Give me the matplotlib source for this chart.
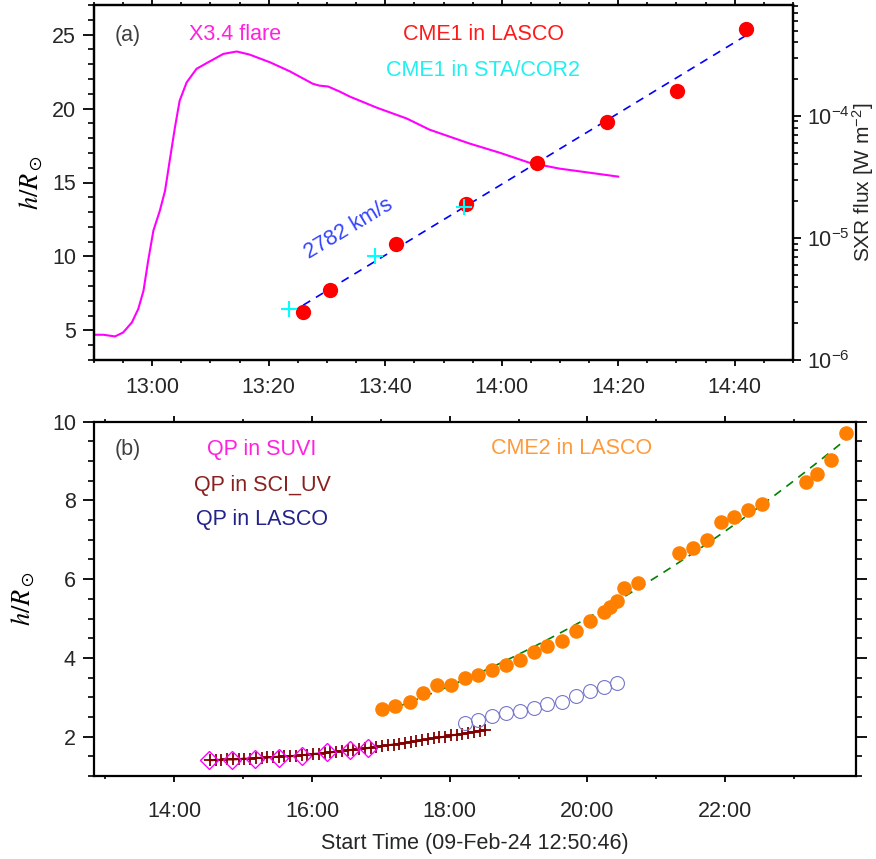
import numpy as np
import matplotlib
matplotlib.use('Agg')
import matplotlib.pyplot as plt
from matplotlib.ticker import MultipleLocator, FuncFormatter, LogLocator, NullFormatter, FixedLocator

plt.rcParams['font.family'] = ['Liberation Sans', 'DejaVu Sans']
plt.rcParams['mathtext.fontset'] = 'custom'
plt.rcParams['mathtext.rm'] = 'Liberation Sans'
plt.rcParams['mathtext.it'] = 'Liberation Sans:italic'
plt.rcParams['mathtext.sf'] = 'Liberation Sans'

# ---------------- data: panel (a) ----------------
flare_minutes_after_1250 = [0, 1.6, 3.6, 5.0, 6.5, 7.6, 8.5, 9.3, 10.2, 11.3, 12.2, 13.0, 13.9,
                            14.7, 15.9, 17.6, 19.6, 22.2, 24.5, 26.7, 30.2, 33.6, 37.6, 38.7,
                            40.2, 42.2, 43.9, 48.5, 53.7, 57.6, 64.5, 69.6, 74.7, 79.9, 90.0]
flare_flux = [1.61e-6, 1.61e-6, 1.56e-6, 1.68e-6, 2.03e-6, 2.62e-6, 3.70e-6, 6.52e-6, 1.15e-5,
              1.67e-5, 2.44e-5, 4.31e-5, 8.07e-5, 1.33e-4, 1.88e-4, 2.43e-4, 2.75e-4, 3.22e-4,
              3.37e-4, 3.18e-4, 2.75e-4, 2.32e-4, 1.83e-4, 1.77e-4, 1.74e-4, 1.58e-4, 1.44e-4,
              1.17e-4, 9.51e-5, 7.71e-5, 5.93e-5, 5.00e-5, 4.14e-5, 3.70e-5, 3.18e-5]

cme1_lasco_time = ["13:25:54", "13:30:30", "13:41:54", "13:53:54", "14:06:00", "14:18:00",
                   "14:30:00", "14:42:00"]
cme1_lasco_h = [6.24, 7.76, 10.83, 13.54, 16.34, 19.06, 21.16, 25.39]
cme1_cor2_time = ["13:23:30", "13:38:18", "13:53:30"]
cme1_cor2_h = [6.47, 10.04, 13.32]
cme1_speed_kms = 2782

# ---------------- data: panel (b) ----------------
suvi_time = ["14:30", "14:50", "15:10", "15:31", "15:51", "16:13", "16:33", "16:49"]
suvi_h = [1.41, 1.41, 1.42, 1.45, 1.52, 1.60, 1.66, 1.70]

sciuv_time = ["14:31", "14:36", "14:41", "14:46", "14:51", "14:56", "15:01", "15:06", "15:11",
              "15:16", "15:21", "15:26", "15:31", "15:36", "15:41", "15:46", "15:51", "15:56",
              "16:01", "16:06", "16:11", "16:16", "16:21", "16:26", "16:31", "16:36", "16:41",
              "16:46", "16:51", "16:56", "17:01", "17:06", "17:11", "17:16", "17:21", "17:26",
              "17:31", "17:36", "17:41", "17:46", "17:51", "17:56", "18:01", "18:06", "18:11",
              "18:16", "18:21", "18:26", "18:31"]
sciuv_h = [1.40, 1.41, 1.41, 1.42, 1.42, 1.43, 1.44, 1.44, 1.46, 1.46, 1.47, 1.48, 1.49, 1.50,
           1.50, 1.52, 1.53, 1.54, 1.56, 1.57, 1.59, 1.60, 1.62, 1.64, 1.65, 1.67, 1.68, 1.70,
           1.72, 1.74, 1.76, 1.78, 1.80, 1.82, 1.84, 1.87, 1.88, 1.91, 1.93, 1.96, 1.98, 2.00,
           2.03, 2.05, 2.07, 2.10, 2.12, 2.15, 2.17]

qp_lasco_time = ["18:13", "18:25", "18:37", "18:49", "19:01", "19:13", "19:25", "19:38",
                 "19:50", "20:02", "20:14", "20:26"]
qp_lasco_h = [2.34, 2.42, 2.53, 2.61, 2.65, 2.72, 2.82, 2.89, 3.04, 3.16, 3.27, 3.37]

cme2_time = ["17:01", "17:12", "17:25", "17:37", "17:49", "18:01", "18:13", "18:25", "18:37",
             "18:49", "19:01", "19:13", "19:25", "19:38", "19:50", "20:02", "20:14", "20:20",
             "20:26", "20:32", "20:44", "21:20", "21:32", "21:44", "21:56", "22:08", "22:20",
             "22:32", "23:10", "23:20", "23:32", "23:45"]
cme2_h = [2.70, 2.79, 2.875, 3.12, 3.31, 3.32, 3.48, 3.57, 3.68, 3.82, 3.95, 4.16, 4.29, 4.44,
          4.69, 4.95, 5.16, 5.29, 5.44, 5.78, 5.89, 6.67, 6.78, 7.00, 7.45, 7.57, 7.75, 7.91,
          8.47, 8.68, 9.02, 9.72]


def to_hours(s):
    parts = [float(p) for p in s.split(":")]
    while len(parts) < 3:
        parts.append(0.0)
    return parts[0] + parts[1] / 60.0 + parts[2] / 3600.0


def hhmm(v, pos=None):
    m = int(round(v * 60))
    return f"{m // 60:02d}:{m % 60:02d}"


TXT = '#262626'
FS = 15.5
W, H = 876, 859
fig = plt.figure(figsize=(W / 100, H / 100), dpi=100)

def frac(l, t, r, b):
    return [l / W, 1 - b / H, (r - l) / W, (b - t) / H]

# ================= panel (a) =================
AL, AT, AR, AB = 94, 5, 793, 360
ax = fig.add_axes(frac(AL, AT, AR, AB))
axr = ax.twinx()
ax.set_zorder(axr.get_zorder() + 1)
ax.patch.set_visible(False)

t_flare = [12 + 50 / 60 + m / 60 for m in flare_minutes_after_1250]
axr.plot(t_flare, flare_flux, color='#ff00ff', lw=1.5)
axr.set_yscale('log')
axr.set_ylim(1e-6, 8.1e-4)

tl = np.array([to_hours(s) for s in cme1_lasco_time])
tc = np.array([to_hours(s) for s in cme1_cor2_time])
hl = np.array(cme1_lasco_h)
hc = np.array(cme1_cor2_h)
v_rs_per_hr = cme1_speed_kms * 3600 / 696000.0
t_all = np.concatenate([tl, tc])
h_all = np.concatenate([hl, hc])
intercept = np.mean(h_all - v_rs_per_hr * t_all)
tfit = np.array([tl.min(), tl.max()])
ax.plot(tfit, intercept + v_rs_per_hr * tfit, color='#0000ff', lw=1.2, ls=(0, (5, 4)))
ax.plot(tl, hl, 'o', color='#ff0000', ms=11, mew=0)
ax.plot(tc, hc, '+', color='#00ffff', ms=12, mew=1.5)

ax.set_xlim(12 + 50 / 60, 14 + 50 / 60)
ax.set_ylim(3, 27)
ax.xaxis.set_major_locator(FixedLocator([13, 13 + 1 / 3, 13 + 2 / 3, 14, 14 + 1 / 3, 14 + 2 / 3]))
ax.xaxis.set_minor_locator(MultipleLocator(1 / 12))
ax.xaxis.set_major_formatter(FuncFormatter(hhmm))
ax.yaxis.set_major_locator(MultipleLocator(5))
ax.yaxis.set_minor_locator(MultipleLocator(1))

def atxt(x, y, s, c, **kw):
    ax.text((x - AL) / (AR - AL), 1 - (y - AT) / (AB - AT), s, transform=ax.transAxes,
            fontsize=FS, color=c, ha='center', va='center', **kw)

atxt(128, 35, '(a)', '#404040')
atxt(235.5, 35, 'X3.4 flare', '#ff22dd')
atxt(484, 35, 'CME1 in LASCO', '#ff1a1a')
atxt(483, 70, 'CME1 in STA/COR2', '#22f0f0')
atxt(349, 229, '2782 km/s', '#3344ff', rotation=31, rotation_mode='anchor')

ax.set_ylabel(r'$h/R_\odot$', fontsize=19, math_fontfamily='stix', labelpad=5)
axr.set_ylabel(r'SXR flux [W m$^{-2}$]', fontsize=15, color=TXT, labelpad=0)

# ================= panel (b) =================
BL, BT, BR, BB = 94, 421.7, 856, 776
bx = fig.add_axes(frac(BL, BT, BR, BB))
t_sciuv = [to_hours(s) for s in sciuv_time]
bx.plot(t_sciuv, sciuv_h, '-', color='#800000', lw=1.5)
bx.plot(t_sciuv, sciuv_h, '+', color='#800000', ms=8, mew=1.3)
bx.plot([to_hours(s) for s in suvi_time], suvi_h, 'D', mfc='none', mec='#ff00ff', ms=9, mew=1.0)
bx.plot([to_hours(s) for s in qp_lasco_time], qp_lasco_h, 'o', mfc='none', mec='#7777cc', ms=10, mew=0.8)
t2 = np.array([to_hours(s) for s in cme2_time])
h2 = np.array(cme2_h)
coef = np.polyfit(t2, h2, 2)
tt = np.linspace(t2.min(), t2.max(), 200)
bx.plot(tt, np.polyval(coef, tt), color='#008000', lw=1.2, ls=(0, (5, 4)))
bx.plot(t2, h2, 'o', color='#ff8000', ms=10.5, mew=0)

bx.set_xlim(12 + 50 / 60, 23.9)
bx.set_ylim(1, 10)
bx.xaxis.set_major_locator(MultipleLocator(2))
bx.xaxis.set_minor_locator(MultipleLocator(1))
bx.xaxis.set_major_formatter(FuncFormatter(hhmm))
bx.yaxis.set_major_locator(MultipleLocator(2))
bx.yaxis.set_minor_locator(MultipleLocator(0.5))

def btxt(x, y, s, c):
    bx.text((x - BL) / (BR - BL), 1 - (y - BT) / (BB - BT), s, transform=bx.transAxes, fontsize=FS,
            color=c, ha='center', va='center')

btxt(128, 450, '(b)', '#404040')
btxt(262, 450, 'QP in SUVI', '#ff22dd')
btxt(262, 485, 'QP in SCI_UV', '#8b2020')
btxt(262, 520, 'QP in LASCO', '#22228c')
btxt(572, 449, 'CME2 in LASCO', '#ff9a3a')

bx.set_ylabel(r'$h/R_\odot$', fontsize=19, math_fontfamily='stix', labelpad=11)
bx.set_xlabel('Start Time (09-Feb-24 12:50:46)', fontsize=FS, color=TXT, labelpad=8)

# ---------------- styling ----------------
for a in (ax, axr, bx):
    for sp in a.spines.values():
        sp.set_linewidth(1.6)
        sp.set_color('black')

ax.tick_params(axis='y', which='major', direction='out', length=8, width=1.3, left=True, right=False,
               labelsize=FS, labelcolor=TXT, pad=5)
ax.tick_params(axis='y', which='minor', direction='out', length=4, width=1.2, left=True, right=False)
ax.tick_params(axis='x', which='major', direction='out', length=4, width=1.3, top=True, bottom=True,
               labelsize=FS, labelcolor=TXT, pad=8)
ax.tick_params(axis='x', which='minor', direction='out', length=2.5, width=1.2, top=True, bottom=True)
axr.tick_params(axis='y', which='major', direction='out', length=6, width=1.3, labelsize=FS,
                labelcolor=TXT, pad=4)
axr.tick_params(axis='y', which='minor', direction='out', length=3.5, width=1.2)
axr.yaxis.set_major_locator(LogLocator(base=10, numticks=10))
axr.yaxis.set_minor_locator(LogLocator(base=10, subs=np.arange(2, 10), numticks=10))
axr.yaxis.set_minor_formatter(NullFormatter())

bx.tick_params(axis='y', which='major', direction='out', length=8, width=1.3, left=True, right=True,
               labelsize=FS, labelcolor=TXT, pad=5)
bx.tick_params(axis='y', which='minor', direction='out', length=4, width=1.2, left=True, right=True)
bx.tick_params(axis='x', which='major', direction='out', length=4, width=1.3, top=True, bottom=True,
               labelsize=FS, labelcolor=TXT, pad=14)
bx.tick_params(axis='x', which='minor', direction='out', length=2.5, width=1.2, top=True, bottom=True)

fig.savefig('out.png', dpi=100)
